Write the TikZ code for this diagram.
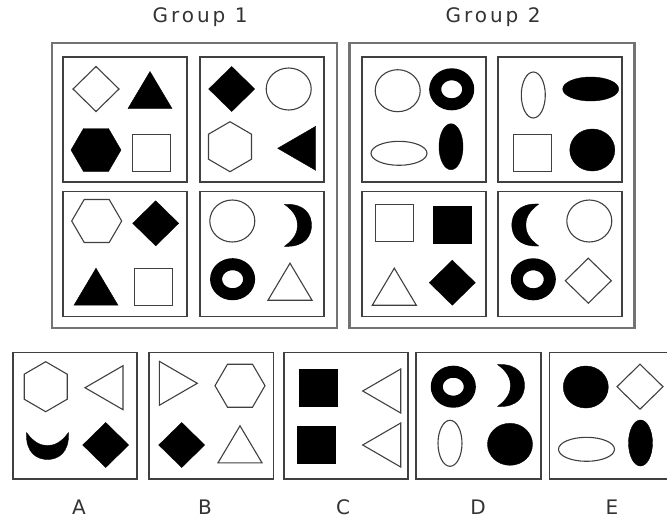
\documentclass[tikz,border=0pt]{standalone}
\usepackage{fontspec}
\setmainfont{DejaVu Sans}
\newfontfamily\grpfont[LetterSpace=15]{DejaVu Sans}

\begin{document}
\begin{tikzpicture}[
    x=1pt, y=-1pt,
    grp/.style={rectangle, draw=black!55, line width=2.2pt, inner sep=0pt,
                minimum width=285pt, minimum height=284.7pt},
    panel/.style={rectangle, draw=black!75, line width=1.7pt, inner sep=0pt,
                  minimum width=124pt, minimum height=125pt},
    opt/.style={panel, minimum width=124.6pt, minimum height=126.7pt},
    dark/.style={draw=black, fill=black},
    light/.style={draw=black!75, line width=1.1pt, fill=white},
    lbl/.style={font=\fontsize{20}{24}\selectfont, text=black!80},
    diam/.pic={\path[pic actions] (-23,0) -- (0,-22.5) -- (23,0) -- (0,22.5) -- cycle;},
    triup/.pic={\path[pic actions] (-22,18.5) -- (0,-18.5) -- (22,18.5) -- cycle;},
    trileft/.pic={\path[pic actions] (-19,0) -- (19,-22) -- (19,22) -- cycle;},
    triright/.pic={\path[pic actions] (19,0) -- (-19,-22) -- (-19,22) -- cycle;},
    hexflat/.pic={\path[pic actions] (-25,0) -- (-12.5,-21.5) -- (12.5,-21.5)
                  -- (25,0) -- (12.5,21.5) -- (-12.5,21.5) -- cycle;},
    hexpoint/.pic={\path[pic actions] (0,-25) -- (21.5,-12.5) -- (21.5,12.5)
                   -- (0,25) -- (-21.5,12.5) -- (-21.5,-12.5) -- cycle;},
    sqr/.pic={\path[pic actions] (-19,-18.5) rectangle (19,18.5);},
    circ/.pic={\path[pic actions] (0,0) ellipse (22.5 and 21);},
    ellh/.pic={\path[pic actions] (0,0) ellipse (28 and 12);},
    ellv/.pic={\path[pic actions] (0,0) ellipse (12 and 23);},
    ring/.pic={\draw[black, line width=12pt] (0,0) ellipse (16.5 and 15);},
    moon/.pic={\path[pic actions] (-13,-21) .. controls (8,-22) and (14,-10) .. (14,0)
               .. controls (14,10) and (8,22) .. (-13,21)
               .. controls (-2,13) and (0,6) .. (0,0)
               .. controls (0,-6) and (-2,-13) .. cycle;},
]
    \useasboundingbox (0,0) rectangle (667,523);

    % group frames and titles
    \node[lbl] (t1) at (200,17) {\grpfont Group 1};
    \node[lbl] (t2) at (493,17) {\grpfont Group 2};
    \node[grp] (g1) at (194.2,185.7) {};
    \node[grp] (g2) at (492,185.7) {};

    \node[panel] (g1a) at (125.3,119.2) {};
    \node[panel] (g1b) at (262,119.2) {};
    \node[panel] (g1c) at (125.3,253.9) {};
    \node[panel] (g1d) at (262,253.9) {};
    \node[panel] (g2a) at (424.2,119.2) {};
    \node[panel] (g2b) at (560.2,119.2) {};
    \node[panel] (g2c) at (424.2,253.9) {};
    \node[panel] (g2d) at (560.2,253.9) {};

    % group 1
    \pic[light] at (96,89) {diam};
    \pic[dark] at (150,90) {triup};
    \pic[dark] at (96,150) {hexflat};
    \pic[light] at (151.7,153.3) {sqr};

    \pic[dark] at (231.7,89) {diam};
    \pic[light] at (288.7,89) {circ};
    \pic[light] at (230,146.7) {hexpoint};
    \pic[dark] at (296.7,148.3) {trileft};

    \pic[light] at (96.7,221) {hexflat};
    \pic[dark] at (155.7,223.3) {diam};
    \pic[dark] at (96,286.7) {triup};
    \pic[light] at (153.3,286.7) {sqr};

    \pic[light] at (232.3,221) {circ};
    \pic[dark] at (297.5,225.3) {moon};
    \pic at (232.6,279.2) {ring};
    \pic[light] at (290,281.7) {triup};

    % group 2
    \pic[light] at (397.7,90.7) {circ};
    \pic at (451.7,89.3) {ring};
    \pic[light] at (399,153.3) {ellh};
    \pic[dark] at (451,146.7) {ellv};

    \pic[light] at (533.3,95) {ellv};
    \pic[dark] at (590.7,89) {ellh};
    \pic[light] at (532.3,153.3) {sqr};
    \pic[dark] at (592.3,150) {circ};

    \pic[light] at (394.3,223.3) {sqr};
    \pic[dark] at (452.3,225) {sqr};
    \pic[light] at (394.3,286.7) {triup};
    \pic[dark] at (452.3,282.7) {diam};

    \pic[dark, xscale=-1] at (525.8,225) {moon};
    \pic[light] at (589.3,221) {circ};
    \pic at (533.3,279.3) {ring};
    \pic[light] at (588.3,280.7) {diam};

    % answer choices
    \node[opt] (optA) at (75,415.7) {};
    \node[opt] (optB) at (211.2,415.7) {};
    \node[opt] (optC) at (346,415.7) {};
    \node[opt] (optD) at (478.4,415.7) {};
    \node[opt] (optE) at (611.7,415.7) {};

    \pic[light] at (45.7,386.7) {hexpoint};
    \pic[light] at (104,387.7) {trileft};
    \pic[dark, rotate=-90] at (47.5,445.5) {moon};
    \pic[dark] at (105.7,445) {diam};

    \pic[light] at (178.3,383.3) {triright};
    \pic[light] at (240,385.7) {hexflat};
    \pic[dark] at (181.7,445) {diam};
    \pic[light] at (240,444.3) {triup};

    \pic[dark] at (317.7,387.3) {sqr};
    \pic[light] at (381.7,391) {trileft};
    \pic[dark] at (316.5,445) {sqr};
    \pic[light] at (381.7,445) {trileft};

    \pic at (453.3,386.7) {ring};
    \pic[dark] at (510.5,385.5) {moon};
    \pic[light] at (450,443.3) {ellv};
    \pic[dark] at (510,444.3) {circ};

    \pic[dark] at (585.8,387) {circ};
    \pic[light] at (640,386.7) {diam};
    \pic[light] at (586.5,449.3) {ellh};
    \pic[dark] at (640.5,443) {ellv};

    \node[lbl] (lA) at (79,507.5) {A};
    \node[lbl] (lB) at (205,507.5) {B};
    \node[lbl] (lC) at (343,507.5) {C};
    \node[lbl] (lD) at (478,507.5) {D};
    \node[lbl] (lE) at (612,507.5) {E};
\end{tikzpicture}
\end{document}
